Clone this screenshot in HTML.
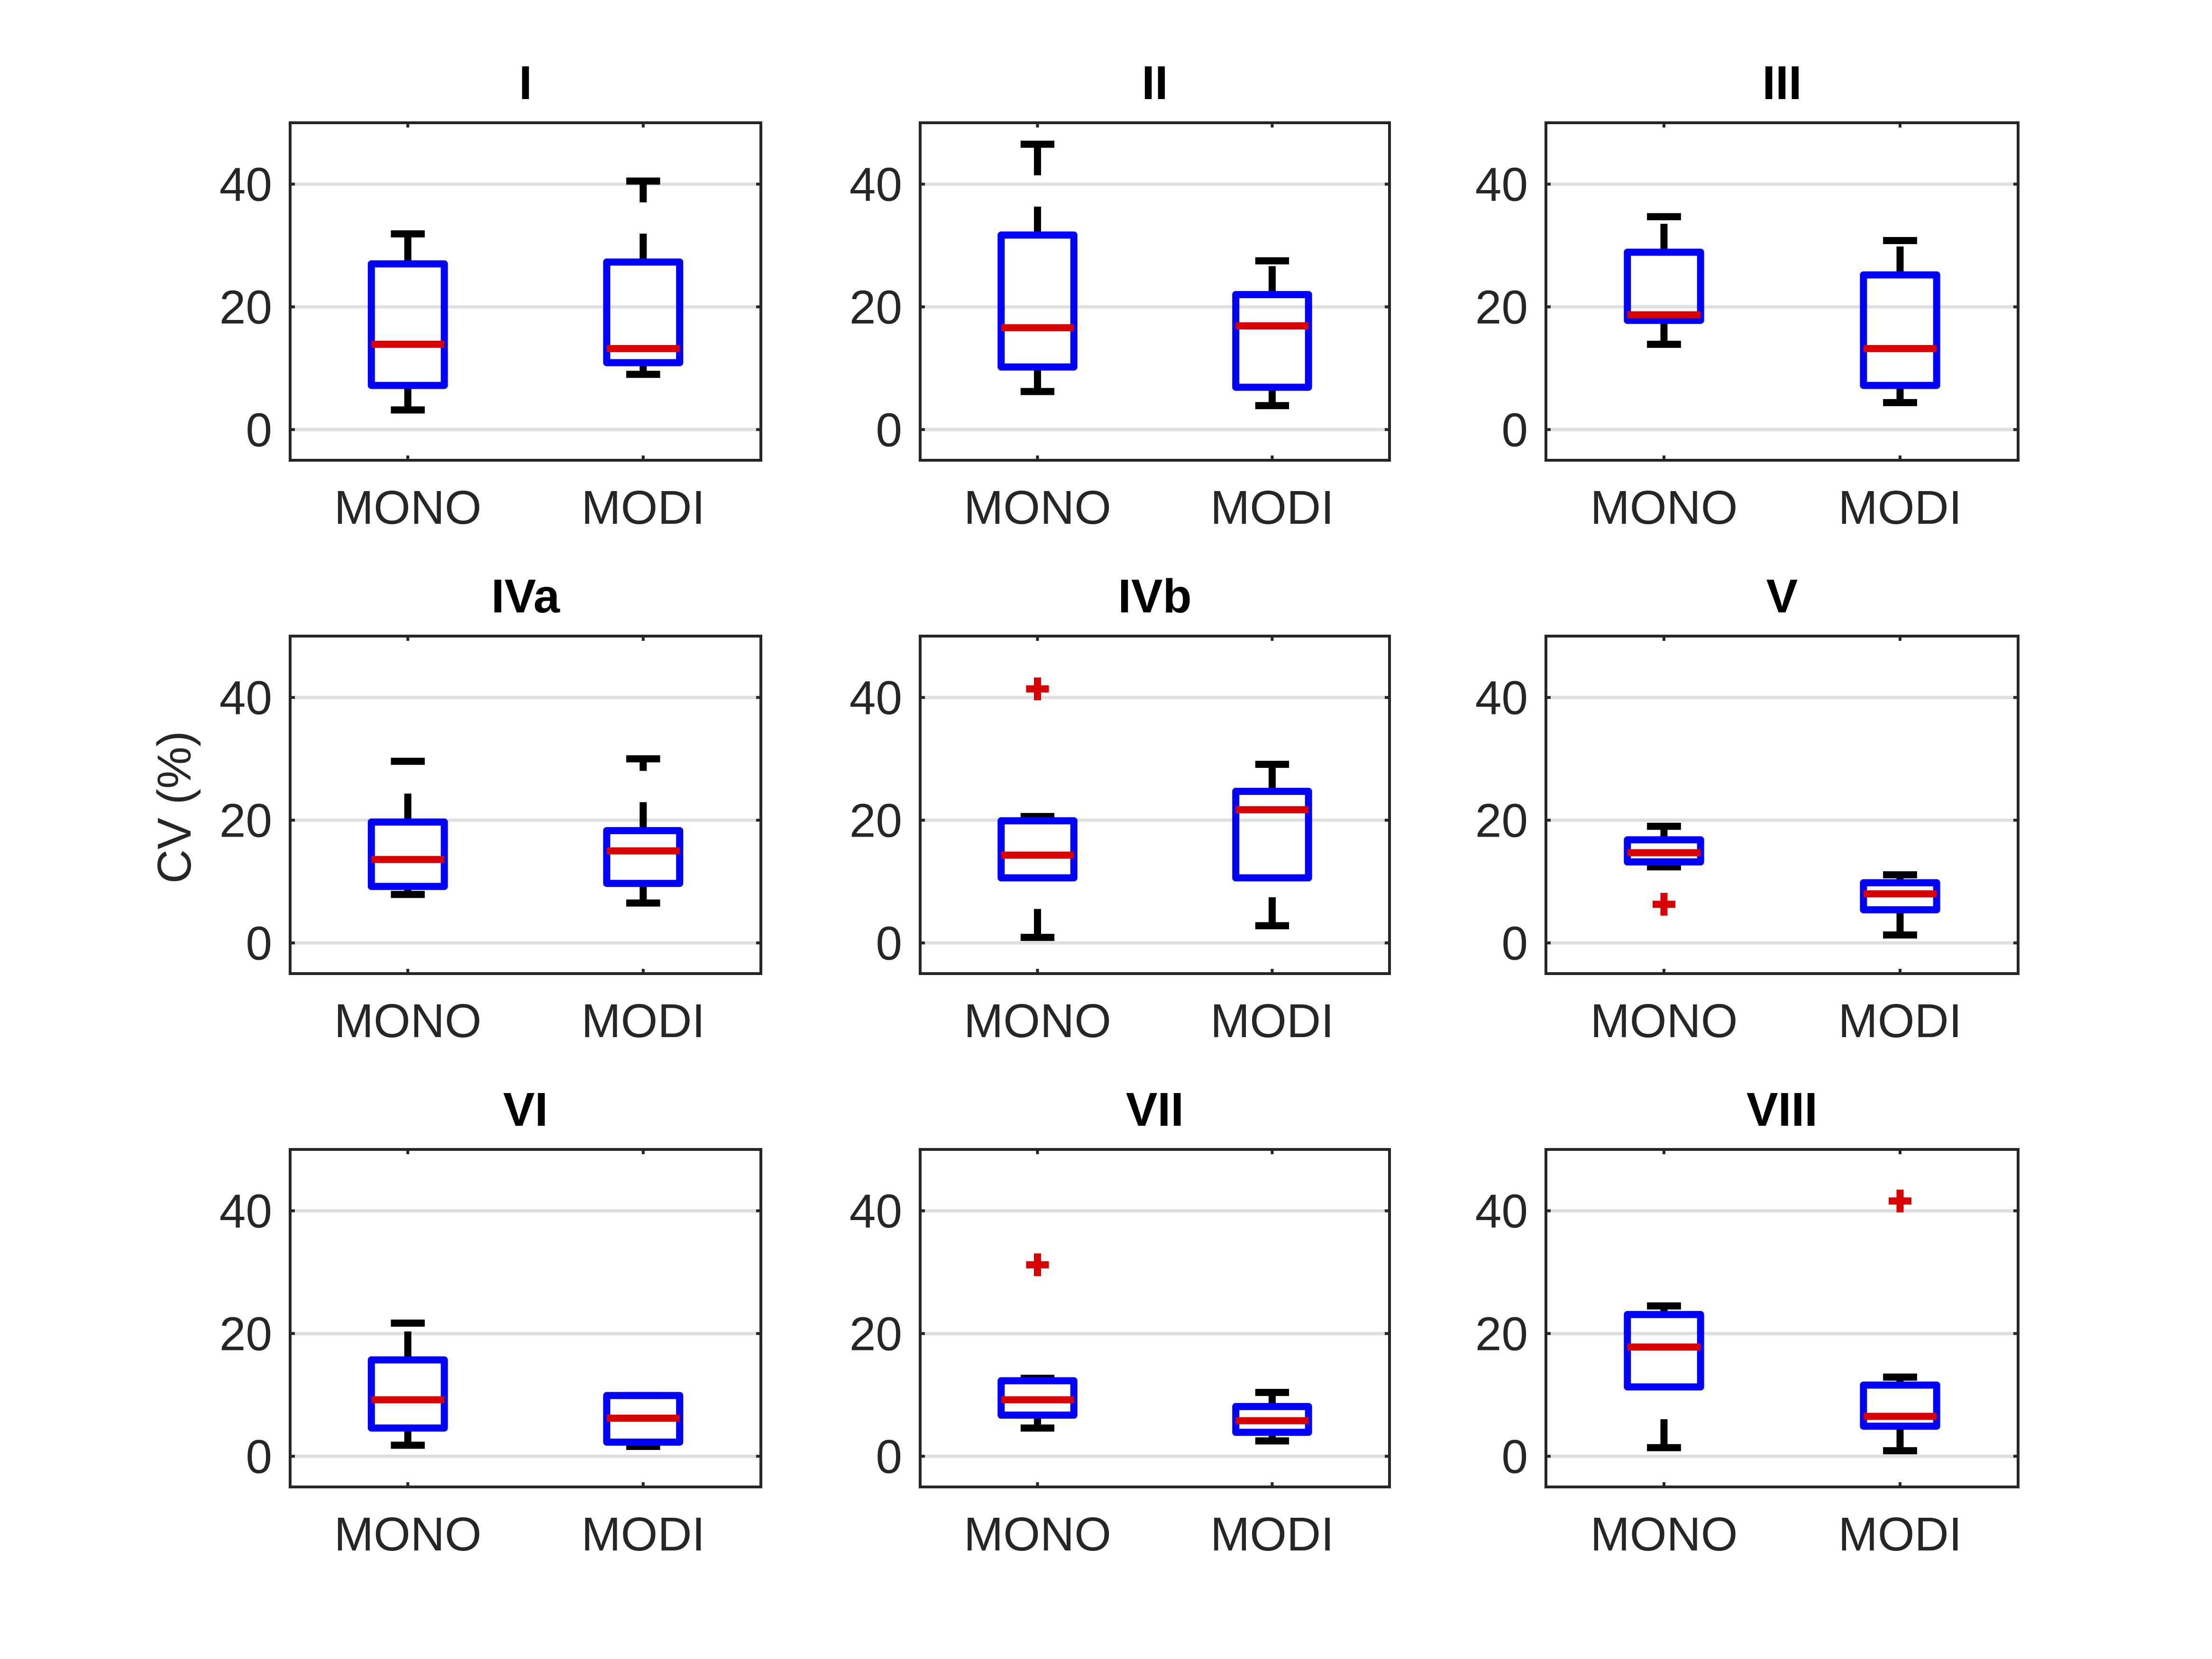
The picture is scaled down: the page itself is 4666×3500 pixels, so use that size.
<!DOCTYPE html>
<html><head><meta charset="utf-8"><style>
html,body{margin:0;padding:0;background:#fff;}
svg{display:block;}
text{font-family:"Liberation Sans",Arial,sans-serif;}
</style></head><body>
<svg id="fig" width="4666" height="3500" viewBox="0 0 4666 3500" xmlns="http://www.w3.org/2000/svg">
<rect width="4666" height="3500" fill="#fff"/>
<text x="0" y="0" transform="translate(402,1703) rotate(-90)" font-size="100" fill="#262626" text-anchor="middle">CV (%)</text>
</svg>
<script>
const panelTitles = ["I","II","III","IVa","IVb","V","VI","VII","VIII"];
const categories = ["MONO","MODI"];
const yTicks = [0,20,40];
const yTickLabels = ["0","20","40"];
// [MONO, MODI] per panel
const lowWhisker = [[3.2,9.0],[6.2,3.9],[13.9,4.4],[7.9,6.5],[0.9,2.8],[12.4,1.3],[1.8,1.6],[4.6,2.5],[1.4,0.9]];
const q1Values   = [[7.2,10.9],[10.2,6.9],[17.8,7.2],[9.2,9.7],[10.6,10.6],[13.2,5.4],[4.6,2.3],[6.7,3.9],[11.3,4.9]];
const medians    = [[13.9,13.2],[16.6,16.9],[18.7,13.2],[13.6,15.0],[14.3,21.7],[14.7,8.0],[9.2,6.2],[9.2,5.8],[17.8,6.5]];
const q3Values   = [[27.0,27.3],[31.7,22.0],[28.9,25.2],[19.7,18.3],[19.9,24.7],[16.8,9.8],[15.7,9.9],[12.3,8.1],[23.1,11.6]];
const highWhisker= [[31.9,40.5],[46.5,27.5],[34.7,30.8],[29.6,30.0],[20.6,29.1],[19.0,11.1],[21.7,9.9],[12.7,10.4],[24.5,12.9]];
const outliers   = [[[],[]],[[],[]],[[],[]],[[],[]],[[41.4],[]],[[6.3],[]],[[],[]],[[31.2],[]],[[],[41.6]]];

const NS="http://www.w3.org/2000/svg";
const svg=document.getElementById('fig');
const colX=[612,1941,3261], colW=[993,990,996];
const rowY=[259,1342,2425], rowH=712;
const yMin=-5,yMax=50;
function mk(tag,attrs,parent){const e=document.createElementNS(NS,tag);for(const k in attrs)e.setAttribute(k,attrs[k]);(parent||svg).appendChild(e);return e;}

panelTitles.forEach((t,p)=>{
  const c=p%3,r=Math.floor(p/3);
  const L=colX[c],T=rowY[r],W=colW[c],H=rowH;
  const xs=v=>L+(v-0.5)/2*W;
  const ys=v=>T+H-(v-yMin)/(yMax-yMin)*H;
  const g=mk('g',{});
  
  
  yTicks.forEach((v,i)=>{
    const gl=mk('line',{x1:L,x2:L+W,y1:ys(v),y2:ys(v),stroke:'#dfdfdf','stroke-width':7},g);
    
    
    mk('line',{x1:L,x2:L+10,y1:ys(v),y2:ys(v),stroke:'#262626','stroke-width':6},g);
    mk('line',{x1:L+W-10,x2:L+W,y1:ys(v),y2:ys(v),stroke:'#262626','stroke-width':6},g);
    const tl=mk('text',{x:L-38,y:ys(v)+35,'font-size':100,fill:'#262626','text-anchor':'end'},g);
    tl.textContent=yTickLabels[i];
    
    
  });
  categories.forEach((cat,k)=>{
    const x=xs(k+1);
    mk('line',{x1:x,x2:x,y1:T+H,y2:T+H-10,stroke:'#262626','stroke-width':6},g);
    mk('line',{x1:x,x2:x,y1:T,y2:T+10,stroke:'#262626','stroke-width':6},g);
    const xl=mk('text',{x:x,y:T+H+134,'font-size':100,fill:'#262626','text-anchor':'middle'},g);
    xl.textContent=cat;
    
    
    const bw=0.155*W/2, cw=0.072*W/2;
    const lo=lowWhisker[p][k],q1=q1Values[p][k],md=medians[p][k],q3=q3Values[p][k],hi=highWhisker[p][k];
    const w1=mk('line',{x1:x,x2:x,y1:ys(q3),y2:ys(hi),stroke:'#000','stroke-width':15,'stroke-dasharray':'60 66'},g);
    
    
    const w2=mk('line',{x1:x,x2:x,y1:ys(lo),y2:ys(q1),stroke:'#000','stroke-width':15,'stroke-dasharray':'60 66'},g);
    
    
    const c1=mk('line',{x1:x-cw,x2:x+cw,y1:ys(hi),y2:ys(hi),stroke:'#000','stroke-width':15},g);
    
    
    const c2=mk('line',{x1:x-cw,x2:x+cw,y1:ys(lo),y2:ys(lo),stroke:'#000','stroke-width':15},g);
    
    
    const b=mk('rect',{x:x-bw,y:ys(q3),width:2*bw,height:Math.max(0,ys(q1)-ys(q3)),fill:'none',stroke:'#0000ff','stroke-width':15,'stroke-linejoin':'round'},g);
    
    
    const m=mk('line',{x1:x-bw,x2:x+bw,y1:ys(md),y2:ys(md),stroke:'#d90000','stroke-width':15},g);
    
    
    outliers[p][k].forEach(o=>{
      const og=mk('g',{stroke:'#d90000','stroke-width':15},g);
      
      
      mk('line',{x1:x-24,x2:x+24,y1:ys(o),y2:ys(o)},og);
      mk('line',{x1:x,x2:x,y1:ys(o)-24,y2:ys(o)+24},og);
    });
  });
  const fr=mk('rect',{x:L,y:T,width:W,height:H,fill:'none',stroke:'#262626','stroke-width':6},g);
  
  
  const ti=mk('text',{x:L+W/2,y:T-50,'font-size':100,'font-weight':'bold',fill:'#000','text-anchor':'middle'},g);
  ti.textContent=t;
  
  
});
</script>
</body></html>
